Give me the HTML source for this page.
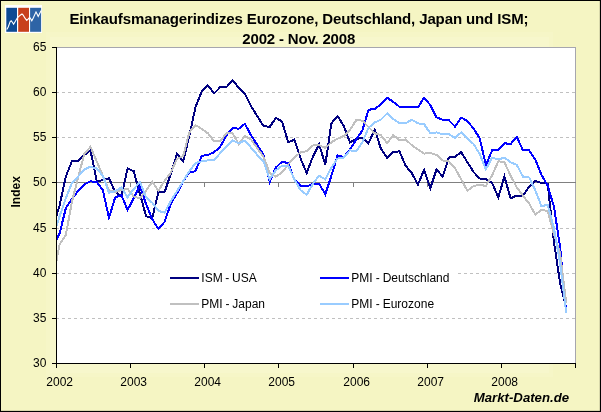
<!DOCTYPE html>
<html><head><meta charset="utf-8"><title>Einkaufsmanagerindizes</title>
<style>
html,body{margin:0;padding:0;background:#f5f5c3;}
svg{display:block;font-family:"Liberation Sans",Arial,sans-serif;font-size:12px;fill:#000}
.s{fill:none;stroke-width:2;stroke-linejoin:miter}
</style></head><body>
<svg width="601" height="412" viewBox="0 0 601 412">
<defs><clipPath id="c"><rect x="57" y="48" width="518" height="315"/></clipPath></defs>
<rect x="0" y="0" width="601" height="412" fill="#f5f5c3"/>
<rect x="46" y="32" width="507" height="345" fill="#f7f7cc" opacity=".5"/>
<rect x="50" y="37" width="499" height="336" fill="#f7f7cc"/>
<rect x="0.5" y="0.5" width="600" height="411" fill="none" stroke="#000"/>
<rect x="599" y="0" width="1" height="412" fill="#000" opacity=".12"/>
<rect x="0" y="410" width="601" height="1" fill="#000" opacity=".12"/>
<!-- logo -->
<rect x="5" y="5" width="37" height="28" fill="#fff"/>
<rect x="6.3" y="7.8" width="10.7" height="24" fill="#0d4a94"/>
<rect x="18.2" y="7.8" width="10.8" height="24" fill="#c8401c"/>
<rect x="30.1" y="7.8" width="11" height="24" fill="#2e64a6"/>
<polyline points="6.8,29.6 8.2,27 10.2,21.6 11.2,20.8 12.4,22.2 13.6,24.2 15.5,21 17.4,17.8 18.6,16.6 20.5,15 22,14 23.2,15.2 25,18.2 26.7,20.4 28.2,19 29.7,17.4 30.8,19 31.8,20.8 33.5,17.5 36,11.9 37.2,14.2 38.2,16.5 39.8,13.2 41.2,10.6" fill="none" stroke="#fff" stroke-width="1.1"/>
<!-- title -->
<text x="298.9" y="24" text-anchor="middle" font-weight="bold" font-size="15" letter-spacing="-0.115">Einkaufsmanagerindizes Eurozone, Deutschland, Japan und ISM;</text>
<text x="298.7" y="44" text-anchor="middle" font-weight="bold" font-size="15" letter-spacing="-0.18">2002 - Nov. 2008</text>
<!-- plot -->
<rect x="56.5" y="47.5" width="519" height="316" fill="#fff" stroke="#a6a6ae"/>
<g shape-rendering="crispEdges">
<line x1="56" y1="318.5" x2="575" y2="318.5" stroke="#c0c0c0" stroke-dasharray="3 3"/>
<line x1="56" y1="273.5" x2="575" y2="273.5" stroke="#c0c0c0" stroke-dasharray="3 3"/>
<line x1="56" y1="228.5" x2="575" y2="228.5" stroke="#c0c0c0" stroke-dasharray="3 3"/>
<line x1="56" y1="137.5" x2="575" y2="137.5" stroke="#c0c0c0" stroke-dasharray="3 3"/>
<line x1="56" y1="92.5" x2="575" y2="92.5" stroke="#c0c0c0" stroke-dasharray="3 3"/>
</g>
<rect x="160" y="264" width="297" height="50" fill="#fff"/>
<g shape-rendering="crispEdges">
<line x1="56" y1="182.5" x2="576" y2="182.5" stroke="#808080"/>
<line x1="56.5" y1="363" x2="56.5" y2="368" stroke="#000"/>
<text x="59.7" y="385.6" text-anchor="middle">2002</text>
<line x1="130.5" y1="363" x2="130.5" y2="368" stroke="#000"/>
<line x1="130.5" y1="183" x2="130.5" y2="187" stroke="#808080"/>
<text x="133.7" y="385.6" text-anchor="middle">2003</text>
<line x1="204.5" y1="363" x2="204.5" y2="368" stroke="#000"/>
<line x1="204.5" y1="183" x2="204.5" y2="187" stroke="#808080"/>
<text x="207.7" y="385.6" text-anchor="middle">2004</text>
<line x1="278.5" y1="363" x2="278.5" y2="368" stroke="#000"/>
<line x1="278.5" y1="183" x2="278.5" y2="187" stroke="#808080"/>
<text x="281.7" y="385.6" text-anchor="middle">2005</text>
<line x1="353.5" y1="363" x2="353.5" y2="368" stroke="#000"/>
<line x1="353.5" y1="183" x2="353.5" y2="187" stroke="#808080"/>
<text x="356.7" y="385.6" text-anchor="middle">2006</text>
<line x1="427.5" y1="363" x2="427.5" y2="368" stroke="#000"/>
<line x1="427.5" y1="183" x2="427.5" y2="187" stroke="#808080"/>
<text x="430.7" y="385.6" text-anchor="middle">2007</text>
<line x1="501.5" y1="363" x2="501.5" y2="368" stroke="#000"/>
<line x1="501.5" y1="183" x2="501.5" y2="187" stroke="#808080"/>
<text x="504.7" y="385.6" text-anchor="middle">2008</text>
<line x1="575.5" y1="363" x2="575.5" y2="368" stroke="#000"/>

<line x1="56.5" y1="47" x2="56.5" y2="368" stroke="#000"/>
<line x1="52" y1="363.5" x2="575" y2="363.5" stroke="#000"/>
<line x1="52" y1="363.5" x2="57" y2="363.5" stroke="#000"/>
<text x="46.4" y="366.7" text-anchor="end">30</text>
<line x1="52" y1="318.5" x2="57" y2="318.5" stroke="#000"/>
<text x="46.4" y="321.7" text-anchor="end">35</text>
<line x1="52" y1="273.5" x2="57" y2="273.5" stroke="#000"/>
<text x="46.4" y="276.7" text-anchor="end">40</text>
<line x1="52" y1="228.5" x2="57" y2="228.5" stroke="#000"/>
<text x="46.4" y="231.7" text-anchor="end">45</text>
<line x1="52" y1="182.5" x2="57" y2="182.5" stroke="#000"/>
<text x="46.4" y="185.7" text-anchor="end">50</text>
<line x1="52" y1="137.5" x2="57" y2="137.5" stroke="#000"/>
<text x="46.4" y="140.7" text-anchor="end">55</text>
<line x1="52" y1="92.5" x2="57" y2="92.5" stroke="#000"/>
<text x="46.4" y="95.7" text-anchor="end">60</text>
<line x1="52" y1="47.5" x2="57" y2="47.5" stroke="#000"/>
<text x="46.4" y="50.7" text-anchor="end">65</text>

</g>
<g clip-path="url(#c)" shape-rendering="crispEdges">
<polyline class="s" stroke="#000080" points="53.4,225.4 59.6,205.5 65.8,176.6 71.9,161.3 78.1,161.3 84.3,154.9 90.5,150.4 96.7,181.1 102.8,180.2 109.0,178.4 115.2,192.0 121.4,196.5 127.6,168.5 133.7,171.2 139.9,193.8 146.1,216.3 152.3,218.1 158.4,192.0 164.6,192.0 170.8,173.9 177.0,154.0 183.2,161.3 189.3,136.0 195.5,107.1 201.7,91.7 207.9,85.4 214.1,93.5 220.2,87.2 226.4,87.2 232.6,80.0 238.8,88.1 244.9,93.5 251.1,106.2 257.3,116.1 263.5,126.0 269.7,127.0 275.8,117.9 282.0,121.5 288.2,142.3 294.4,139.6 300.6,158.6 306.7,173.0 312.9,156.7 319.1,144.1 325.3,164.9 331.4,123.3 337.6,116.1 343.8,126.0 350.0,142.3 356.2,139.1 362.3,137.8 368.5,143.2 374.7,129.7 380.9,148.6 387.1,157.6 393.2,152.2 399.4,151.3 405.6,165.8 411.8,173.0 417.9,184.7 424.1,169.8 430.3,188.3 436.5,169.4 442.7,176.6 448.8,157.6 455.0,156.7 461.2,152.2 467.4,162.2 473.6,172.1 479.7,178.4 485.9,179.3 492.1,182.9 498.3,197.4 504.4,176.6 510.6,198.3 516.8,195.6 523.0,195.6 529.2,186.5 535.3,181.1 541.5,182.9 547.7,183.8 553.9,241.6 560.1,283.1 566.2,307.5"/>
<polyline class="s" stroke="#0000ff" points="53.4,245.2 59.6,233.5 65.8,208.2 71.9,198.7 78.1,191.1 84.3,184.3 90.5,181.4 96.7,182.0 102.8,190.2 109.0,217.7 115.2,197.4 121.4,195.1 127.6,210.0 133.7,198.3 139.9,185.6 146.1,204.1 152.3,219.3 158.4,229.0 164.6,221.8 170.8,203.7 177.0,193.3 183.2,181.1 189.3,172.5 195.5,171.2 201.7,155.8 207.9,154.9 214.1,152.2 220.2,146.8 226.4,135.5 232.6,127.9 238.8,128.8 244.9,123.8 251.1,135.5 257.3,145.0 263.5,154.9 269.7,182.0 275.8,167.6 282.0,161.7 288.2,163.1 294.4,179.8 300.6,185.6 306.7,186.5 312.9,183.8 319.1,183.8 325.3,194.2 331.4,175.7 337.6,155.3 343.8,157.2 350.0,149.5 356.2,139.6 362.3,130.6 368.5,109.8 374.7,108.9 380.9,104.4 387.1,97.6 393.2,101.9 399.4,106.7 405.6,107.4 411.8,107.5 417.9,107.4 424.1,97.7 430.3,105.0 436.5,117.3 442.7,119.7 448.8,120.2 455.0,126.6 461.2,117.7 467.4,120.9 473.6,128.8 479.7,138.1 485.9,165.3 492.1,150.4 498.3,150.0 504.4,143.2 510.6,144.1 516.8,136.9 523.0,150.4 529.2,150.4 535.3,159.5 541.5,174.8 547.7,185.6 553.9,206.4 560.1,247.0 566.2,312.0"/>
<polyline class="s" stroke="#c0c0c0" points="53.4,276.8 59.6,244.3 65.8,235.3 71.9,201.9 78.1,177.5 84.3,154.0 90.5,146.8 96.7,161.3 102.8,175.7 109.0,190.2 115.2,192.0 121.4,190.2 127.6,188.8 133.7,196.5 139.9,198.3 146.1,190.6 152.3,181.7 158.4,190.8 164.6,180.7 170.8,172.5 177.0,159.0 183.2,155.8 189.3,132.4 195.5,125.1 201.7,128.8 207.9,133.3 214.1,141.4 220.2,141.4 226.4,133.3 232.6,133.3 238.8,144.1 244.9,136.0 251.1,139.6 257.3,148.2 263.5,156.7 269.7,173.0 275.8,176.6 282.0,172.5 288.2,164.4 294.4,157.6 300.6,152.2 306.7,151.3 312.9,145.5 319.1,145.0 325.3,148.0 331.4,142.3 337.6,138.7 343.8,136.0 350.0,129.7 356.2,120.2 362.3,120.6 368.5,127.0 374.7,133.3 380.9,135.1 387.1,143.2 393.2,135.1 399.4,140.1 405.6,139.4 411.8,145.2 417.9,149.5 424.1,153.6 430.3,153.1 436.5,154.9 442.7,160.4 448.8,161.3 455.0,168.1 461.2,179.3 467.4,190.8 473.6,186.0 479.7,184.7 485.9,186.0 492.1,175.3 498.3,161.3 504.4,162.2 510.6,175.7 516.8,187.4 523.0,195.6 529.2,203.7 535.3,214.5 541.5,210.0 547.7,210.9 553.9,234.4 560.1,253.4 566.2,303.0"/>
<polyline class="s" stroke="#99ccff" points="53.4,236.2 59.6,216.3 65.8,198.3 71.9,182.9 78.1,176.6 84.3,169.4 90.5,166.7 96.7,168.5 102.8,175.7 109.0,192.9 115.2,191.1 121.4,187.4 127.6,197.4 133.7,189.2 139.9,182.0 146.1,197.4 152.3,202.8 158.4,210.9 164.6,212.7 170.8,201.0 177.0,191.1 183.2,181.1 189.3,171.2 195.5,163.1 201.7,161.3 207.9,160.4 214.1,160.4 220.2,153.1 226.4,146.8 232.6,140.5 238.8,143.2 244.9,140.5 251.1,147.7 257.3,154.9 263.5,161.3 269.7,179.3 275.8,170.3 282.0,165.8 288.2,165.8 294.4,179.3 300.6,190.2 306.7,194.7 312.9,183.8 319.1,175.7 325.3,179.3 331.4,167.6 337.6,158.6 343.8,157.6 350.0,150.4 356.2,151.3 362.3,142.3 368.5,127.9 374.7,122.4 380.9,119.7 387.1,113.4 393.2,118.8 399.4,123.3 405.6,123.3 411.8,119.7 417.9,123.3 424.1,124.2 430.3,133.3 436.5,132.4 442.7,134.2 448.8,134.2 455.0,137.8 461.2,132.4 467.4,138.7 473.6,144.1 479.7,154.0 485.9,169.4 492.1,157.6 498.3,159.5 504.4,157.6 510.6,162.2 516.8,164.9 523.0,176.6 529.2,177.5 535.3,190.2 541.5,206.4 547.7,204.6 553.9,228.1 560.1,263.3 566.2,312.9"/>
</g>
<!-- legend -->
<g shape-rendering="crispEdges" stroke-width="2">
<line x1="170" y1="278" x2="199" y2="278" stroke="#000080"/>
<line x1="170" y1="304" x2="199" y2="304" stroke="#c0c0c0"/>
<line x1="320" y1="278" x2="349" y2="278" stroke="#0000ff"/>
<line x1="320" y1="304" x2="349" y2="304" stroke="#99ccff"/>
</g>
<text x="201.3" y="282" word-spacing="-0.6">ISM - USA</text>
<text x="201.3" y="308" word-spacing="-0.5">PMI - Japan</text>
<text x="351.3" y="282" word-spacing="-0.3">PMI - Deutschland</text>
<text x="351.3" y="308" word-spacing="-0.3">PMI - Eurozone</text>
<text transform="translate(20.3,207.5) rotate(-90)" font-weight="bold" font-size="12">Index</text>
<text x="473.8" y="402" font-weight="bold" font-style="italic" font-size="13.2">Markt-Daten.de</text>
</svg>
</body></html>
